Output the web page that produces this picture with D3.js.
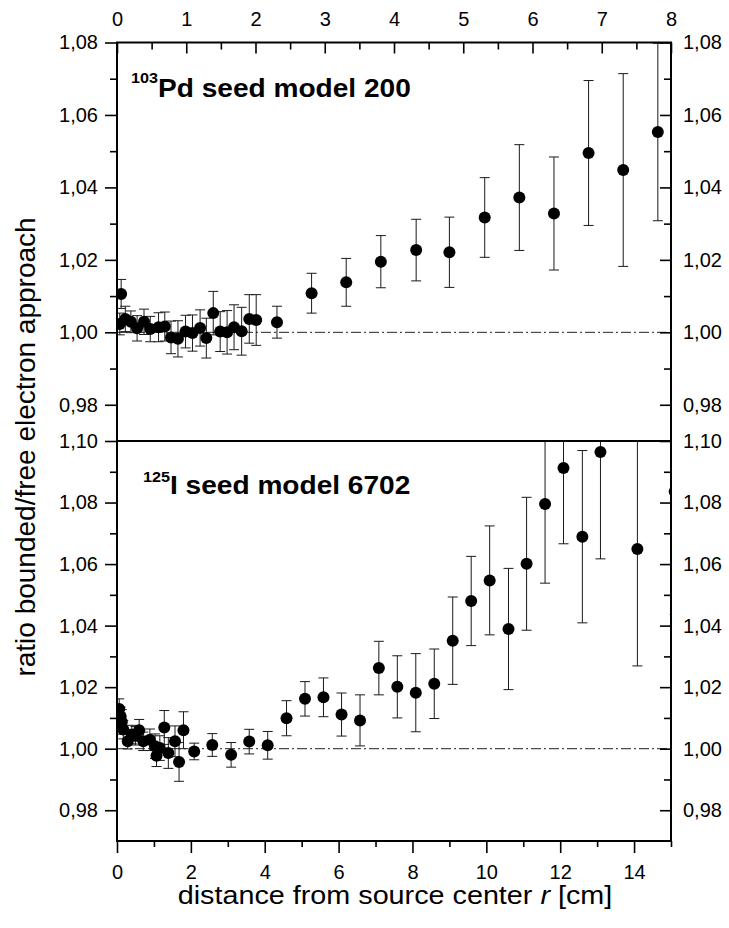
<!DOCTYPE html>
<meta charset="utf-8">
<title>ratio bounded/free electron approach</title>
<style>
  body { margin: 0; background: #fff; }
  text { font-family: Arial, "Liberation Sans", sans-serif; fill: #000; }
</style>
<body>
<svg id="chart" width="729" height="928"></svg>
<script src="https://d3js.org/d3.v7.min.js"></script>
<script>

// 103Pd seed model 200 (top panel, top x axis 0-8)
var pdR   = [0.04, 0.06, 0.12, 0.2, 0.29, 0.39, 0.48, 0.6, 0.69, 0.78, 0.88, 0.99, 1.09, 1.2, 1.29, 1.39, 1.49, 1.59, 1.69, 1.8, 1.91, 2.01, 2.31, 2.81, 3.31, 3.81, 4.32, 4.8, 5.31, 5.81, 6.31, 6.81, 7.31, 7.81];
var pdVal = [1.0023, 1.0106, 1.0037, 1.0029, 1.0011, 1.0029, 1.0009, 1.0014, 1.0016, 0.9986, 0.9982, 1.0002, 0.9998, 1.0012, 0.9984, 1.0053, 1.0002, 1.0000, 1.0014, 1.0003, 1.0037, 1.0034, 1.0028, 1.0108, 1.0138, 1.0195, 1.0227, 1.0221, 1.0317, 1.0372, 1.0328, 1.0495, 1.0448, 1.0553];
var pdErr = [0.003, 0.004, 0.0035, 0.003, 0.0035, 0.0035, 0.0035, 0.004, 0.004, 0.0045, 0.005, 0.0045, 0.005, 0.005, 0.0055, 0.006, 0.0055, 0.006, 0.0062, 0.0066, 0.0067, 0.007, 0.0044, 0.0055, 0.0066, 0.0072, 0.0085, 0.0097, 0.011, 0.0146, 0.0156, 0.020, 0.0266, 0.0245];

// 125I seed model 6702 (bottom panel, bottom x axis 0-15)
var iR   = [0.06, 0.1, 0.13, 0.17, 0.29, 0.4, 0.5, 0.6, 0.71, 0.89, 1.03, 1.07, 1.16, 1.28, 1.39, 1.57, 1.68, 1.8, 2.09, 2.58, 3.09, 3.58, 4.08, 4.59, 5.09, 5.59, 6.08, 6.58, 7.09, 7.59, 8.09, 8.59, 9.09, 9.59, 10.09, 10.6, 11.09, 11.59, 12.09, 12.6, 13.09, 14.09, 15.1];
var iVal = [1.0129, 1.0105, 1.0087, 1.0062, 1.0024, 1.0046, 1.0042, 1.006, 1.0024, 1.0029, 1.0008, 0.9977, 1.0002, 1.0069, 0.9986, 1.0024, 0.9957, 1.006, 0.9991, 1.0012, 0.998, 1.0023, 1.0011, 1.0099, 1.0162, 1.0167, 1.0111, 1.0092, 1.0262, 1.0201, 1.0182, 1.0211, 1.0351, 1.048, 1.0547, 1.0389, 1.0601, 1.0795, 1.0912, 1.0689, 1.0964, 1.0649, 1.0836];
var iErr = [0.0033, 0.003, 0.004, 0.003, 0.0025, 0.003, 0.003, 0.0035, 0.003, 0.0035, 0.004, 0.0035, 0.004, 0.0055, 0.005, 0.005, 0.0063, 0.006, 0.0027, 0.0037, 0.004, 0.004, 0.0045, 0.0057, 0.0056, 0.0063, 0.007, 0.0083, 0.0087, 0.0101, 0.0127, 0.0113, 0.0142, 0.0145, 0.0177, 0.0197, 0.0216, 0.0257, 0.0246, 0.028, 0.0347, 0.038, 0.04];

var pdXTicks = [0, 1, 2, 3, 4, 5, 6, 7, 8];
var pdXMinor = [0.5, 1.5, 2.5, 3.5, 4.5, 5.5, 6.5, 7.5];
var iXTicks  = [0, 2, 4, 6, 8, 10, 12, 14];
var iXMinor  = [1, 3, 5, 7, 9, 11, 13, 15];
var pdYTicks = [0.98, 1.00, 1.02, 1.04, 1.06, 1.08];
var pdYMinor = [0.99, 1.01, 1.03, 1.05, 1.07];
var iYTicks  = [0.98, 1.00, 1.02, 1.04, 1.06, 1.08, 1.10];
var iYMinor  = [0.99, 1.01, 1.03, 1.05, 1.07, 1.09];

var plotLeft = 117, plotRight = 671,
    plotTop = 42.5, plotMid = 441, plotBottom = 841;

var svg = d3.select('#chart');
var yFmt = function (d) { return d3.format('.2f')(d).replace('.', ','); };

var xPd = d3.scaleLinear().domain([0, 8]).range([plotLeft, plotRight]);
var yPd = d3.scaleLinear().domain([0.97, 1.08]).range([plotMid, plotTop]);
var xI  = d3.scaleLinear().domain([0, 15]).range([plotLeft, plotRight]);
var yI  = d3.scaleLinear().domain([0.97, 1.10]).range([plotBottom, plotMid]);

function drawPanel(id, x, y, rs, vals, errs, yMajor, yMinor) {
  var y0 = y.range()[1], y1 = y.range()[0];

  svg.append('clipPath').attr('id', id)
    .append('rect')
      .attr('x', plotLeft).attr('y', y0)
      .attr('width', plotRight - plotLeft).attr('height', y1 - y0);

  var g = svg.append('g').attr('clip-path', 'url(#' + id + ')');

  // reference line at ratio 1
  g.append('line')
    .attr('x1', plotLeft).attr('x2', plotRight)
    .attr('y1', y(1)).attr('y2', y(1))
    .attr('stroke', '#222').attr('stroke-width', 1)
    .attr('stroke-dasharray', '10,3,2,3');

  var pts = rs.map(function (r, i) { return {r: r, v: vals[i], e: errs[i]}; });

  var bars = g.selectAll('g.err').data(pts).enter().append('g')
      .attr('class', 'err')
      .attr('stroke', '#1a1a1a').attr('stroke-width', 1);
  bars.append('line')
      .attr('x1', function (d) { return x(d.r); })
      .attr('x2', function (d) { return x(d.r); })
      .attr('y1', function (d) { return y(d.v - d.e); })
      .attr('y2', function (d) { return y(d.v + d.e); });
  [-1, 1].forEach(function (s) {
    bars.append('line')
      .attr('x1', function (d) { return x(d.r) - 5; })
      .attr('x2', function (d) { return x(d.r) + 5; })
      .attr('y1', function (d) { return y(d.v + s * d.e); })
      .attr('y2', function (d) { return y(d.v + s * d.e); });
  });

  g.selectAll('circle').data(pts).enter().append('circle')
      .attr('cx', function (d) { return x(d.r); })
      .attr('cy', function (d) { return y(d.v); })
      .attr('r', 6)
      .attr('fill', '#000');

  // left axis (ticks outward), right axis (ticks inward)
  svg.append('g').attr('class', 'axis')
      .attr('transform', 'translate(' + plotLeft + ',0)')
      .call(d3.axisLeft(y).tickValues(yMajor).tickSize(12).tickSizeOuter(0).tickPadding(7).tickFormat(yFmt));
  svg.append('g').attr('class', 'axis')
      .attr('transform', 'translate(' + plotLeft + ',0)')
      .call(d3.axisLeft(y).tickValues(yMinor).tickSize(7).tickSizeOuter(0).tickFormat(''));
  svg.append('g').attr('class', 'axis')
      .attr('transform', 'translate(' + plotRight + ',0)')
      .call(d3.axisRight(y).tickValues(yMajor).tickSize(-11).tickSizeOuter(0).tickPadding(12).tickFormat(yFmt));
  svg.append('g').attr('class', 'axis')
      .attr('transform', 'translate(' + plotRight + ',0)')
      .call(d3.axisRight(y).tickValues(yMinor).tickSize(-7).tickSizeOuter(0).tickFormat(''));
}

drawPanel('clipPd', xPd, yPd, pdR, pdVal, pdErr, pdYTicks, pdYMinor);
drawPanel('clipI', xI, yI, iR, iVal, iErr, iYTicks, iYMinor);

// top x axis for Pd panel (ticks point into the plot)
svg.append('g').attr('class', 'axis')
    .attr('transform', 'translate(0,' + plotTop + ')')
    .call(d3.axisTop(xPd).tickValues(pdXTicks).tickSize(-11).tickSizeOuter(0).tickPadding(17));
svg.append('g').attr('class', 'axis')
    .attr('transform', 'translate(0,' + plotTop + ')')
    .call(d3.axisTop(xPd).tickValues(pdXMinor).tickSize(-7).tickSizeOuter(0).tickFormat(''));

// bottom x axis for I panel (ticks outward)
svg.append('g').attr('class', 'axis')
    .attr('transform', 'translate(0,' + plotBottom + ')')
    .call(d3.axisBottom(xI).tickValues(iXTicks).tickSize(12).tickSizeOuter(0).tickPadding(12));
svg.append('g').attr('class', 'axis')
    .attr('transform', 'translate(0,' + plotBottom + ')')
    .call(d3.axisBottom(xI).tickValues(iXMinor).tickSize(6).tickSizeOuter(0).tickFormat(''));

svg.selectAll('.axis .domain').remove();
svg.selectAll('.axis line').attr('stroke', '#000').attr('stroke-width', 1.6);
svg.selectAll('.axis text').style('font-size', '20px').attr('fill', '#000');

// frame
var frame = svg.append('g').attr('stroke', '#000').attr('stroke-width', 2).attr('fill', 'none');
frame.append('rect')
    .attr('x', plotLeft).attr('y', plotTop)
    .attr('width', plotRight - plotLeft).attr('height', plotBottom - plotTop);
frame.append('line')
    .attr('x1', plotLeft).attr('x2', plotRight)
    .attr('y1', plotMid).attr('y2', plotMid);

// panel labels (the source figure is slightly stretched horizontally)
var t1 = svg.append('text')
    .attr('transform', 'translate(131,97) scale(1.08,1)')
    .style('font-weight', 'bold');
t1.append('tspan').attr('dy', -14).style('font-size', '15px').text('103');
t1.append('tspan').attr('dy', 14).style('font-size', '26px').text('Pd seed model 200');

var t2 = svg.append('text')
    .attr('transform', 'translate(143,494) scale(1.08,1)')
    .style('font-weight', 'bold');
t2.append('tspan').attr('dy', -12).style('font-size', '15px').text('125');
t2.append('tspan').attr('dy', 12).style('font-size', '26px').text('I seed model 6702');

// axis titles
svg.append('text')
    .attr('transform', 'translate(35,447) rotate(-90)')
    .attr('text-anchor', 'middle')
    .style('font-size', '28px')
    .text('ratio bounded/free electron approach');

var xt = svg.append('text')
    .attr('transform', 'translate(395,904) scale(1.15,1)')
    .attr('text-anchor', 'middle')
    .style('font-size', '25px');
xt.append('tspan').text('distance from source center ');
xt.append('tspan').style('font-style', 'italic').text('r');
xt.append('tspan').text(' [cm]');

</script>
</body>
